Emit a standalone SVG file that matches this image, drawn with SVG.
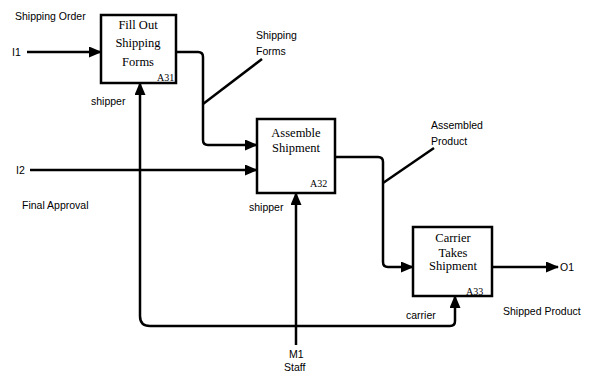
<svg xmlns="http://www.w3.org/2000/svg" width="593" height="373" viewBox="0 0 593 373">
<defs>
<marker id="ah" markerUnits="userSpaceOnUse" markerWidth="13" markerHeight="11" refX="12" refY="5.5" orient="auto">
<path d="M0,0 L13,5.5 L0,11 Z" fill="#000"/>
</marker>
<style>
.box{fill:#fff;stroke:#000;stroke-width:2.5}
.bt{font-family:"Liberation Serif",serif;font-size:12.5px;text-anchor:middle;fill:#000}
.code{font-family:"Liberation Serif",serif;font-size:10px;fill:#000}
.lbl{font-family:"Liberation Sans",Arial,sans-serif;font-size:10.5px;fill:#000}
.ln{fill:none;stroke:#000;stroke-width:2.5;stroke-linejoin:round}
.ar{marker-end:url(#ah)}
</style>
</defs>
<rect width="593" height="373" fill="#fff"/>
<g id="connectors">
<path class="ln ar" d="M27,52 L101,52"/>
<path class="ln ar" d="M176,52 L198,52 Q203,52 203,57 L203,140 Q203,145 208,145 L257,145"/>
<path class="ln" d="M203,104 L262,59"/>
<path class="ln ar" d="M30,170 L257,170"/>
<path class="ln ar" d="M335,157 L378,157 Q383,157 383,162 L383,262 Q383,267 388,267 L413,267"/>
<path class="ln" d="M383,183 L434,148"/>
<path class="ln ar" d="M492,267 L558,267"/>
<path class="ln ar" d="M296,345 L296,193"/>
<path class="ln ar" d="M296,326 L150,326 Q140,326 140,316 L140,83"/>
<path class="ln ar" d="M296,326 L450,326 Q455,326 455,321 L455,296"/>
</g>
<g id="A31">
<rect class="box" x="101" y="15" width="75" height="68"/>
<text class="bt" x="138" y="29">Fill Out</text>
<text class="bt" x="138" y="47">Shipping</text>
<text class="bt" x="138" y="66">Forms</text>
<text class="code" x="157" y="81">A31</text>
</g>
<g id="A32">
<rect class="box" x="257" y="119" width="78" height="74"/>
<text class="bt" x="296" y="137">Assemble</text>
<text class="bt" x="296" y="152">Shipment</text>
<text class="code" x="310" y="187">A32</text>
</g>
<g id="A33">
<rect class="box" x="413" y="227" width="79" height="69"/>
<text class="bt" x="453" y="242">Carrier</text>
<text class="bt" x="453" y="257">Takes</text>
<text class="bt" x="453" y="270">Shipment</text>
<text class="code" x="466" y="295">A33</text>
</g>
<g id="labels">
<text class="lbl" x="15" y="20">Shipping Order</text>
<text class="lbl" x="12" y="56">I1</text>
<text class="lbl" x="91" y="105">shipper</text>
<text class="lbl" x="256" y="39">Shipping</text>
<text class="lbl" x="256" y="55">Forms</text>
<text class="lbl" x="16" y="174">I2</text>
<text class="lbl" x="22" y="209">Final Approval</text>
<text class="lbl" x="249" y="211">shipper</text>
<text class="lbl" x="431" y="129">Assembled</text>
<text class="lbl" x="431" y="145">Product</text>
<text class="lbl" x="560" y="271">O1</text>
<text class="lbl" x="503" y="315">Shipped Product</text>
<text class="lbl" x="406" y="319">carrier</text>
<text class="lbl" x="289" y="358">M1</text>
<text class="lbl" x="284" y="371">Staff</text>
</g>
</svg>
